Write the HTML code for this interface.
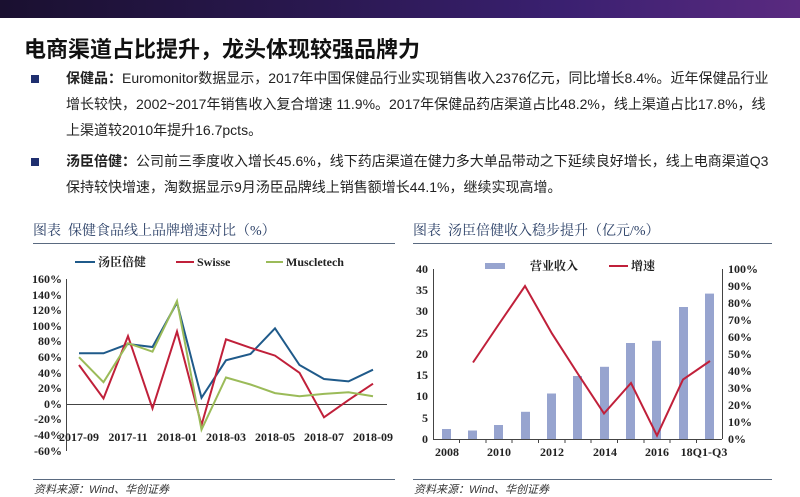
<!DOCTYPE html>
<html><head><meta charset="utf-8"><style>
body{margin:0;width:800px;height:496px;overflow:hidden;background:#fff;font-family:"Liberation Sans","Noto Sans CJK SC",sans-serif;position:relative}
.band{position:absolute;left:0;top:0;width:800px;height:18px;background:linear-gradient(90deg,#1a1030,#2a1850 40%,#3a2070 70%,#5a2a80)}
.t{position:absolute;left:24px;top:32px;font-size:22px;font-weight:bold;color:#111}
.p{position:absolute;left:66px;font-size:14px;color:#222;width:708px;line-height:26px}
.sq{position:absolute;left:31px;width:8px;height:8px;background:#1f2f6f}
.ct{position:absolute;font-family:"Liberation Serif","Noto Serif CJK SC",serif;font-size:14px;color:#2a3f66;top:220px}
.hl{position:absolute;height:1px;background:#5a6a80}
.src{position:absolute;top:481px;font-size:11px;font-style:italic;color:#333}
</style></head><body>
<div class="band"></div>
<div class="t">电商渠道占比提升，龙头体现较强品牌力</div>
<div class="sq" style="top:75px"></div>
<div class="p" style="top:65px"><b>保健品：</b>Euromonitor数据显示，2017年中国保健品行业实现销售收入2376亿元，同比增长8.4%。近年保健品行业增长较快，2002~2017年销售收入复合增速 11.9%。2017年保健品药店渠道占比48.2%，线上渠道占比17.8%，线上渠道较2010年提升16.7pcts。</div>
<div class="sq" style="top:158px"></div>
<div class="p" style="top:148px"><b>汤臣倍健：</b>公司前三季度收入增长45.6%，线下药店渠道在健力多大单品带动之下延续良好增长，线上电商渠道Q3保持较快增速，淘数据显示9月汤臣品牌线上销售额增长44.1%，继续实现高增。</div>
<div class="ct" style="left:33px">图表&nbsp;&nbsp;保健食品线上品牌增速对比（%）</div>
<div class="ct" style="left:413px">图表&nbsp;&nbsp;汤臣倍健收入稳步提升（亿元/%）</div>
<div class="hl" style="left:33px;width:362px;top:243px"></div>
<div class="hl" style="left:413px;width:359px;top:243px"></div>
<div class="hl" style="left:33px;width:362px;top:479px"></div>
<div class="hl" style="left:413px;width:359px;top:479px"></div>
<div class="src" style="left:34px">资料来源：Wind、华创证券</div>
<div class="src" style="left:414px">资料来源：Wind、华创证券</div>
<svg width="800" height="496" style="position:absolute;left:0;top:0" font-family="Liberation Serif,Noto Serif CJK SC,serif" font-size="12" font-weight="bold" fill="#222">
<g stroke="#444" stroke-width="1" fill="none">
<line x1="66.5" y1="279" x2="66.5" y2="451"/>
<line x1="66" y1="404.5" x2="387" y2="404.5"/>
</g>
<g text-anchor="end">
<text x="62" y="283">160%</text><text x="62" y="299">140%</text><text x="62" y="314">120%</text><text x="62" y="330">100%</text><text x="62" y="345">80%</text><text x="62" y="361">60%</text><text x="62" y="377">40%</text><text x="62" y="392">20%</text><text x="62" y="408">0%</text><text x="62" y="423">-20%</text><text x="62" y="439">-40%</text><text x="62" y="455">-60%</text>
</g>
<g text-anchor="middle">
<text x="79" y="441">2017-09</text><text x="128" y="441">2017-11</text><text x="177" y="441">2018-01</text><text x="226" y="441">2018-03</text><text x="275" y="441">2018-05</text><text x="324" y="441">2018-07</text><text x="373" y="441">2018-09</text>
</g>
<g fill="none" stroke-width="2">
<polyline stroke="#1f5a8a" points="79,353.3 103.5,353.3 128,344 152.5,347 177,302.6 201.5,397.8 226,360.3 250.5,354 275,328.3 299.5,365 324,379 348.5,381.4 373,369.7"/>
<polyline stroke="#c0203a" points="79,365 103.5,398.5 128,336.1 152.5,408.4 177,331.5 201.5,425.1 226,339.3 250.5,347.8 275,355.6 299.5,372.8 324,417.3 348.5,400.1 373,383.7"/>
<polyline stroke="#9bbb59" points="79,357.2 103.5,382.2 128,343.2 152.5,351.7 177,301 201.5,429.7 226,377.5 250.5,384.5 275,393.1 299.5,396.2 324,393.9 348.5,392.3 373,396.2"/>
</g>
<line x1="75" y1="262" x2="95" y2="262" stroke="#1f5a8a" stroke-width="2"/><text x="98" y="266">汤臣倍健</text>
<line x1="176" y1="262" x2="194" y2="262" stroke="#c0203a" stroke-width="2"/><text x="197" y="266">Swisse</text>
<line x1="266" y1="262" x2="283" y2="262" stroke="#9bbb59" stroke-width="2"/><text x="286" y="266">Muscletech</text>
<g fill="#97a4cf">
<rect x="442" y="429" width="9" height="10"/><rect x="468" y="430.5" width="9" height="8.5"/><rect x="494" y="425" width="9" height="14"/><rect x="521" y="411.8" width="9" height="27.2"/><rect x="547" y="393.5" width="9" height="45.5"/><rect x="573" y="376" width="9" height="63"/><rect x="600" y="366.8" width="9" height="72.2"/><rect x="626" y="343" width="9" height="96"/><rect x="652" y="340.8" width="9" height="98.2"/><rect x="679" y="307" width="9" height="132"/><rect x="705" y="293.6" width="9" height="145.4"/>
</g>
<g stroke="#444" fill="none">
<line x1="433.5" y1="269" x2="433.5" y2="439"/><line x1="722.5" y1="269" x2="722.5" y2="439"/><line x1="433" y1="439.5" x2="722" y2="439.5"/>
<line x1="459.5" y1="439" x2="459.5" y2="443"/><line x1="486" y1="439" x2="486" y2="443"/><line x1="512" y1="439" x2="512" y2="443"/><line x1="538.5" y1="439" x2="538.5" y2="443"/><line x1="565" y1="439" x2="565" y2="443"/><line x1="591" y1="439" x2="591" y2="443"/><line x1="617.5" y1="439" x2="617.5" y2="443"/><line x1="644" y1="439" x2="644" y2="443"/><line x1="670" y1="439" x2="670" y2="443"/><line x1="696.5" y1="439" x2="696.5" y2="443"/>
</g>
<g text-anchor="end">
<text x="428" y="273">40</text><text x="428" y="294">35</text><text x="428" y="315">30</text><text x="428" y="337">25</text><text x="428" y="358">20</text><text x="428" y="379">15</text><text x="428" y="400">10</text><text x="428" y="422">5</text><text x="428" y="443">0</text>
</g>
<g>
<text x="728" y="273">100%</text><text x="728" y="290">90%</text><text x="728" y="307">80%</text><text x="728" y="324">70%</text><text x="728" y="341">60%</text><text x="728" y="358">50%</text><text x="728" y="375">40%</text><text x="728" y="392">30%</text><text x="728" y="409">20%</text><text x="728" y="426">10%</text><text x="728" y="443">0%</text>
</g>
<g text-anchor="middle">
<text x="447" y="456">2008</text><text x="499" y="456">2010</text><text x="552" y="456">2012</text><text x="605" y="456">2014</text><text x="657" y="456">2016</text><text x="704" y="456">18Q1-Q3</text>
</g>
<polyline fill="none" stroke="#c0203a" stroke-width="2" points="473,362.5 499,324 525,286 552,333.6 578,374 604,413.5 631,383 657,435.6 683,379.5 710,361"/>
<rect x="485" y="263" width="20" height="6" fill="#97a4cf"/><text x="530" y="270">营业收入</text>
<line x1="609" y1="266" x2="628" y2="266" stroke="#c0203a" stroke-width="2"/><text x="631" y="270">增速</text>
</svg>
</body></html>
